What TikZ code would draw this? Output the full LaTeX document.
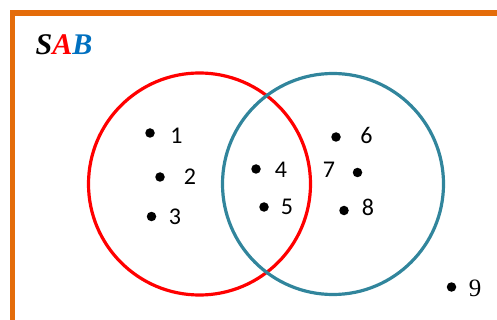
\documentclass[tikz,border=0pt]{standalone}
\usepackage{fontspec}
\setmainfont{Liberation Serif}
\newfontfamily\digitfont{Carlito}
\definecolor{frameorange}{HTML}{E46C0A}
\definecolor{setblue}{HTML}{31859C}
\definecolor{letterblue}{HTML}{0070C0}
\begin{document}
\begin{tikzpicture}[x=1pt,y=-1pt,
  setcircle/.style={circle, line width=3.2pt, inner sep=0pt, minimum size=#1},
  elem/.style={circle, fill=black, inner sep=0pt, minimum size=9.5pt},
  lbl/.style={font=\digitfont\fontsize{24}{24}\selectfont, inner sep=0pt, anchor=center}]
\useasboundingbox (0,0) rectangle (497,320);
\coordinate (fb) at (12.5,320);
\coordinate (fc) at (12.5,13);
\coordinate (fr) at (497,13);
\draw[frameorange, line width=5.5pt] (fb) -- (fc) -- (fr);
\node[font=\bfseries\itshape\fontsize{30}{30}\selectfont, inner sep=0pt] (title) at (64,45)
  {S\textcolor{red}{A}\textcolor{letterblue}{B}};
\node[setcircle=222pt, draw=red] (A) at (199.5,184) {};
\node[setcircle=221pt, draw=setblue] (B) at (333,184) {};
\node[elem] (d1) at (150,133) {};
\node[lbl] (l1) at (176.5,135.5) {1};
\node[elem] (d2) at (160,177) {};
\node[lbl] (l2) at (190,177) {2};
\node[elem] (d3) at (151.5,216.5) {};
\node[lbl] (l3) at (175,217) {3};
\node[elem] (d4) at (256,169) {};
\node[lbl] (l4) at (281,170) {4};
\node[elem] (d5) at (264,207) {};
\node[lbl] (l5) at (287,207) {5};
\node[elem] (d6) at (336,137) {};
\node[lbl] (l6) at (366.5,135) {6};
\node[lbl] (l7) at (329,170) {7};
\node[elem] (d7) at (357.5,172.5) {};
\node[elem] (d8) at (344,210.5) {};
\node[lbl] (l8) at (368,207) {8};
\node[elem] (d9) at (451.5,287) {};
\node[font=\fontsize{25}{25}\selectfont, inner sep=0pt] (l9) at (475,288) {9};
\end{tikzpicture}
\end{document}
